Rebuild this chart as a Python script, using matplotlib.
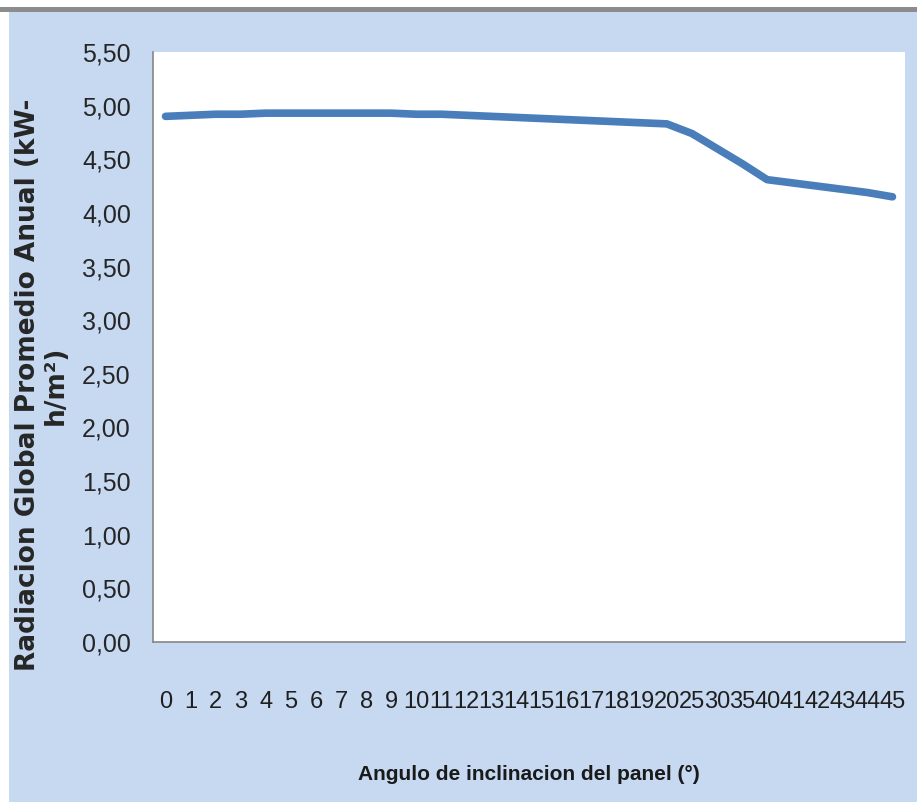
import matplotlib.pyplot as plt
from matplotlib.patches import Rectangle

# inclination angles (category axis) and mean yearly global radiation
angulos = ['0', '1', '2', '3', '4', '5', '6', '7', '8', '9', '10', '11', '12',
           '13', '14', '15', '16', '17', '18', '19', '20', '25', '30', '35',
           '40', '41', '42', '43', '44', '45']
radiacion = [4.90, 4.91, 4.92, 4.92, 4.93, 4.93, 4.93, 4.93, 4.93, 4.93,
             4.92, 4.92, 4.91, 4.90, 4.89, 4.88, 4.87, 4.86, 4.85, 4.84,
             4.83, 4.74, 4.60, 4.46, 4.31, 4.28, 4.25, 4.22, 4.19, 4.15]
y_ticks = [0.0, 0.5, 1.0, 1.5, 2.0, 2.5, 3.0, 3.5, 4.0, 4.5, 5.0, 5.5]

W, H = 917, 802
fondo = '#C6D9F1'
fuente = ['Liberation Sans', 'DejaVu Sans']

fig = plt.figure(figsize=(W / 100, H / 100), dpi=100, facecolor=fondo)

# white margin + gray rule along the top edge, white strip on the left
fig.patches.append(Rectangle((0, 1 - 7 / H), 1, 7 / H, transform=fig.transFigure,
                             facecolor='white', edgecolor='none', zorder=0))
fig.patches.append(Rectangle((0, 1 - 12 / H), 1, 5 / H, transform=fig.transFigure,
                             facecolor='#8C8C8C', edgecolor='none', zorder=0))
fig.patches.append(Rectangle((0, 0), 9 / W, 1 - 12 / H, transform=fig.transFigure,
                             facecolor='white', edgecolor='none', zorder=0))

left, right, top, bottom = 153, 905, 52, 642
ax = fig.add_axes([left / W, 1 - bottom / H, (right - left) / W, (bottom - top) / H])
ax.set_facecolor('white')

x = range(len(angulos))
ax.plot(x, radiacion, color='#4A7EBB', lw=5.5, solid_capstyle='round',
        solid_joinstyle='round')

ax.set_xlim(-0.5, len(angulos) - 0.5)
ax.set_ylim(0, 5.5)
ax.set_yticks(y_ticks)
ax.set_yticklabels([f'{v:.2f}'.replace('.', ',') for v in y_ticks],
                   family=fuente, fontsize=18, color='#262626')
ax.set_xticks(list(x))
ax.set_xticklabels(angulos, family=fuente, fontsize=17, color='#1f1f1f')
ax.tick_params(axis='y', length=0, pad=16)
ax.tick_params(axis='x', length=0, pad=35)

for s in ['top', 'right']:
    ax.spines[s].set_visible(False)
for s in ['left', 'bottom']:
    ax.spines[s].set_color('#868686')
    ax.spines[s].set_linewidth(1.2)

ax.set_xlabel('Angulo de inclinacion del panel (°)', family=fuente,
              fontsize=15, fontweight='bold', color='#1a1a1a', va='center')
ax.xaxis.set_label_coords(0.5, -(775 - bottom) / (bottom - top))

fig.text(42 / W, 1 - 385 / H, 'Radiacion Global Promedio Anual (kW-\nh/m²)',
         rotation=90, ha='center', va='center', multialignment='center',
         fontsize=19, fontweight='bold', color='#262626', linespacing=1.05)

fig.savefig('out.png', dpi=100, facecolor=fig.get_facecolor())
